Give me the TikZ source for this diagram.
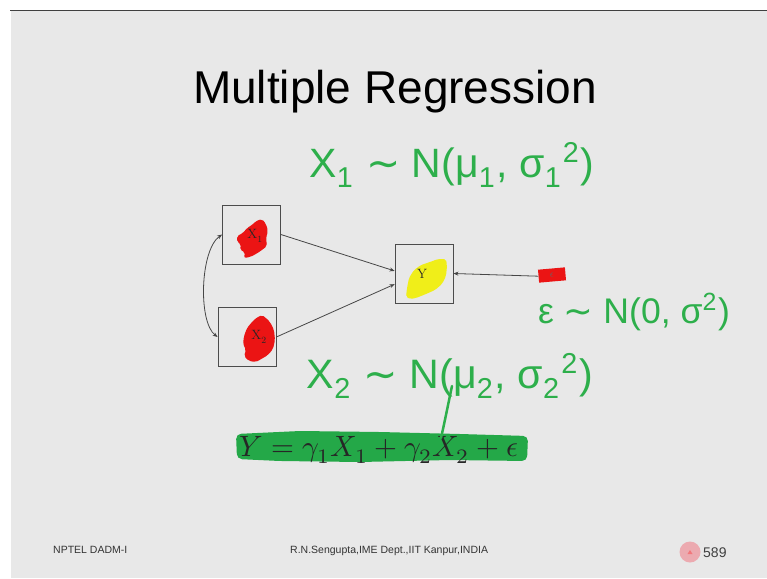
\documentclass[tikz,border=0pt]{standalone}
\usepackage{fontspec}
\newfontfamily\arial{Liberation Sans}
\newfontfamily\hand{Liberation Sans}
\newfontfamily\handsym{DejaVu Sans}
\usepackage{unicode-math}
\setmathfont{Latin Modern Math}
\usetikzlibrary{arrows.meta}
\definecolor{slidebg}{RGB}{232,232,232}
\definecolor{hgreen}{RGB}{45,175,75}
\definecolor{bandgreen}{RGB}{36,168,72}
\definecolor{scred}{RGB}{235,20,20}
\definecolor{scyellow}{RGB}{240,238,25}
\definecolor{pagepink}{RGB}{236,170,176}
\newcommand{\tld}{{\handsym ∼}}
\tikzset{
  varbox/.style={draw=gray!60!black, line width=0.8pt, minimum width=58pt, minimum height=59pt, inner sep=0pt},
  conn/.style={draw=gray!55!black, line width=0.8pt, -{Stealth[length=5pt,width=4pt]}},
  handtext/.style={text=hgreen, inner sep=0pt, font=\hand},
  footer/.style={font=\arial\fontsize{10.5}{12}\selectfont, text=black!80, inner sep=0pt, anchor=base west},
  varlabel/.style={inner sep=0pt, font=\fontsize{13.5}{14}\selectfont, text=black!85},
  scribble/.style={rounded corners=2pt}
}
\begin{document}
\begin{tikzpicture}[x=1pt,y=-1pt]
\useasboundingbox (0,0) rectangle (767,578);
\fill[white] (0,0) rectangle (767,578);
\fill[slidebg] (11,11) rectangle (767,578);
\draw[gray!50!black, line width=1pt] (10,11) -- (767,11);
% title
\node[anchor=base, inner sep=0pt, font=\arial\fontsize{46}{50}\selectfont] (title) at (395,103) {Multiple Regression};
% scribbles
\fill[scred, scribble] (237,236) -- (243,233) -- (247,228) -- (252,225) -- (256,221) -- (262,219) -- (266,224) -- (268,231) -- (266,238) -- (267,246) -- (262,250) -- (256,254) -- (250,257) -- (244,258) -- (245,252) -- (240,250) -- (241,244) -- (237,242) -- cycle;
\fill[scred, scribble] (244,336) -- (247,328) -- (252,322) -- (256,318) -- (262,315) -- (266,318) -- (270,322) -- (274,330) -- (275,340) -- (273,349) -- (268,355) -- (263,358) -- (256,362) -- (249,361) -- (244,356) -- (246,350) -- (243,344) -- cycle;
\fill[scyellow, scribble] (406,297) -- (407,288) -- (409,278) -- (414,270) -- (421,265) -- (430,262) -- (438,259) -- (446,259) -- (447,266) -- (446,276) -- (442,284) -- (435,290) -- (426,294) -- (416,298) -- (410,299) -- cycle;
% boxes
\node[varbox] (x1) at (251.5,234.5) {};
\node[varbox] (x2) at (247,337) {};
\node[varbox] (y) at (424,273.5) {};
\node[varlabel] (x1l) at (255,236) {X\textsubscript{1}};
\node[varlabel] (x2l) at (259,337) {X\textsubscript{2}};
\node[varlabel] (yl) at (422,274) {Y};
% epsilon box
\node[fill=scred, minimum width=27pt, minimum height=13pt, inner sep=0pt, rotate=5, font=\fontsize{10}{10}\selectfont, text=black!60] (eps) at (552,275) {$\epsilon$};
% connectors
\draw[conn] (x1.east) -- (y.175);
\draw[conn] (x2.east) -- (y.200);
\draw[conn] (eps.west) -- (y.east);
\draw[draw=gray!55!black, line width=0.8pt, {Stealth[length=5pt,width=4pt]}-{Stealth[length=5pt,width=4pt]}] (x1.west) .. controls (200,250) and (198,322) .. (x2.west);
% equation band
\fill[bandgreen, rounded corners=5pt] (236,434) -- (300,431) -- (380,432) -- (460,434) -- (528,436) -- (527,461) -- (450,460) -- (360,462) -- (280,461) -- (237,459) -- cycle;
\node[inner sep=0pt, anchor=base, text=black!85] (eq) at (379,456) {\resizebox{278pt}{!}{$Y=\gamma_1X_1+\gamma_2X_2+\epsilon$}};
% handwriting
\node[handtext] (h1) at (452,165) {\resizebox{285pt}{!}{X\textsubscript{1} \tld{} N(μ\textsubscript{1}, σ\textsubscript{1}\textsuperscript{2})}};
\node[handtext] (h2) at (634,312) {\resizebox{192pt}{!}{ε \tld{} N(0, σ\textsuperscript{2})}};
\node[handtext] (h3) at (450,376) {\resizebox{286pt}{!}{X\textsubscript{2} \tld{} N(μ\textsubscript{2}, σ\textsubscript{2}\textsuperscript{2})}};
\draw[hgreen, line width=2.5pt, line cap=round] (452,386) .. controls (448,405) and (444,425) .. (441,438);
% footer
\node[footer] (f1) at (53,553) {NPTEL DADM-I};
\node[footer] (f2) at (290,553) {R.N.Sengupta,IME Dept.,IIT Kanpur,INDIA};
\fill[pagepink] (690,552) circle (10.5);
\fill[pagepink!70!red] (687.5,554) -- (692.5,554) -- (690,550) -- cycle;
\node[inner sep=0pt, anchor=base west, font=\arial\fontsize{14}{16}\selectfont, text=black!75] (pg) at (703,557) {589};
\end{tikzpicture}
\end{document}
